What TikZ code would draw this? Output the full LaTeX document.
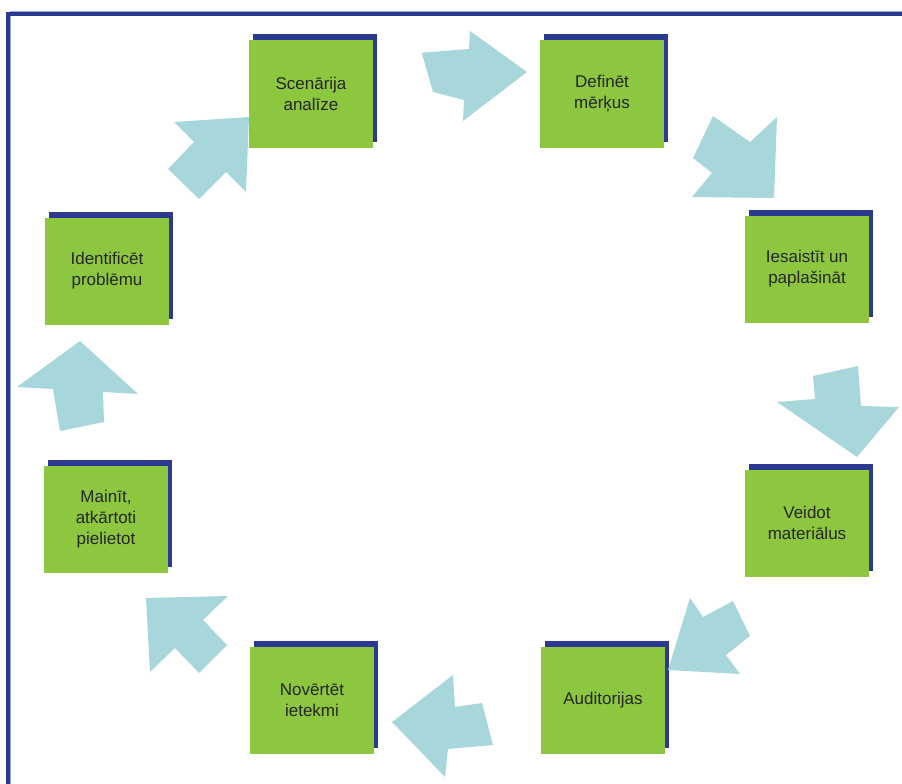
\documentclass[tikz,border=0pt]{standalone}
\usepackage{fontspec}
\setmainfont{Liberation Sans}
\usepackage{xcolor}
\usetikzlibrary{shadows}

\definecolor{stepgreen}{RGB}{141,198,63}
\definecolor{shadowblue}{RGB}{43,57,144}
\definecolor{arrowteal}{RGB}{168,215,219}
\definecolor{framelight}{RGB}{150,170,215}

\tikzset{
    stepbox/.style={
        fill=stepgreen,
        minimum width=124pt,
        minimum height=107pt,
        inner sep=0pt,
        align=center,
        text=black!85,
        font=\fontsize{17}{21}\selectfont,
        general shadow={fill=shadowblue, shadow xshift=4pt, shadow yshift=6pt}
    },
    cyclearrow/.style={fill=arrowteal}
}

\begin{document}
\begin{tikzpicture}[x=1pt,y=-1pt]

\useasboundingbox (0,0) rectangle (902,784);

% frame, top and left only
\draw[framelight, line width=1.2pt] (10.6,784) -- (10.6,11.8) -- (902,11.8);
\draw[shadowblue, line width=3.2pt] (8,784) -- (8,14) -- (902,14);

% steps of the cycle
\node[stepbox] (scen) at (311,94)  {Scenārija\\analīze};
\node[stepbox] (def)  at (602,94)  {Definēt\\mērķus};
\node[stepbox] (iesa) at (807,269) {Iesaistīt un\\paplašināt};
\node[stepbox] (veid) at (807,523) {Veidot\\materiālus};
\node[stepbox] (aud)  at (603,700) {Auditorijas};
\node[stepbox] (nov)  at (312,700) {Novērtēt\\ietekmi};
\node[stepbox] (main) at (106,519) {Mainīt,\\atkārtoti\\pielietot};
\node[stepbox] (iden) at (107,271) {Identificēt\\problēmu};

% block arrows between the steps
\fill[cyclearrow] (421.7,52.7) -- (469,49) -- (470,31) -- (527,72) -- (463,121) -- (464,100) -- (433,92) -- cycle;
\fill[cyclearrow] (713,116) -- (750,142) -- (777,117) -- (774,198) -- (692,197) -- (712,173) -- (693,158) -- cycle;
\fill[cyclearrow] (813,376) -- (858,366) -- (861,406) -- (899,407) -- (857,457) -- (777,402) -- (815,399) -- cycle;
\fill[cyclearrow] (668,670) -- (690,598) -- (703,617) -- (733,601) -- (750,636) -- (726,655) -- (740,674) -- cycle;
\fill[cyclearrow] (392,722) -- (453,675) -- (455,707) -- (482,703) -- (493,745) -- (448,749) -- (445,777) -- cycle;
\fill[cyclearrow] (146,598) -- (228,596) -- (203,620) -- (227,645) -- (199,673) -- (175,648) -- (150,672) -- cycle;
\fill[cyclearrow] (17,387) -- (80,341) -- (138,394) -- (103,392) -- (104,422) -- (60,431) -- (53,389) -- cycle;
\fill[cyclearrow] (249,117) -- (246,192) -- (226,172) -- (199,199) -- (168,169) -- (194,142) -- (174,122) -- cycle;

\end{tikzpicture}
\end{document}
